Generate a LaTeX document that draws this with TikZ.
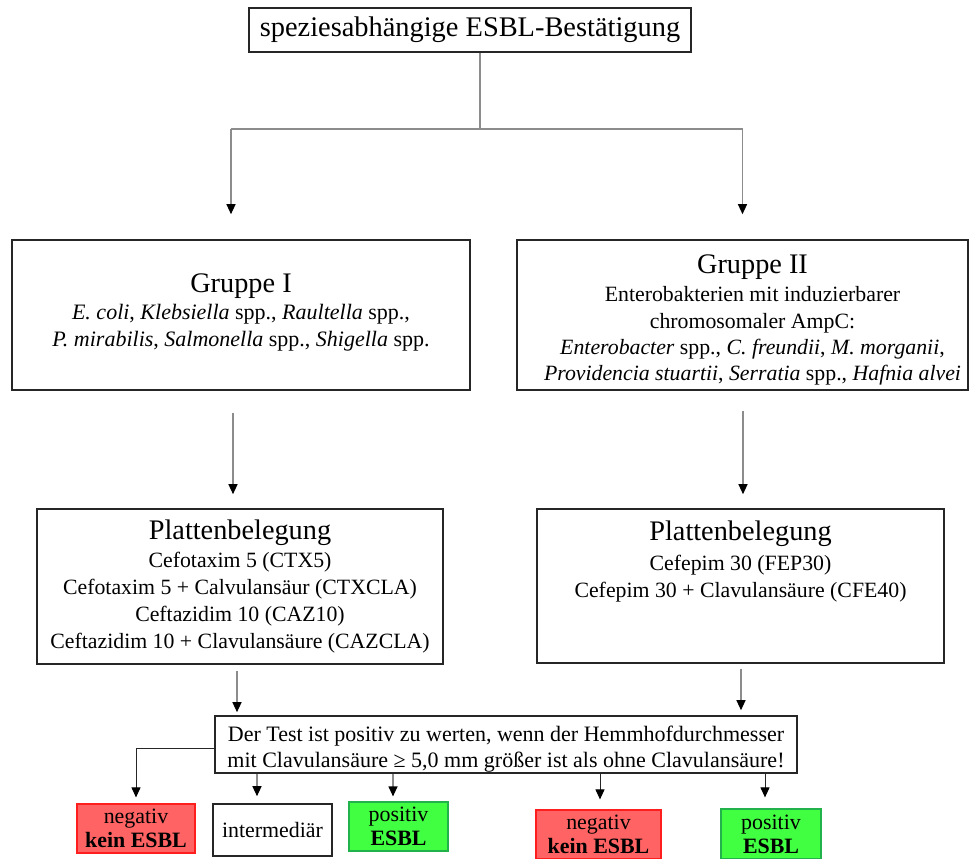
\documentclass[tikz,border=0pt]{standalone}
\usepackage{fontspec}
\setmainfont{Liberation Serif}
\usetikzlibrary{arrows.meta}

\definecolor{negfill}{HTML}{FF6363}
\definecolor{negline}{HTML}{FF1E1E}
\definecolor{posfill}{HTML}{41FF41}
\definecolor{posline}{HTML}{22B24C}
\definecolor{frame}{HTML}{262626}
\definecolor{wire}{HTML}{8C8C8C}

\newcommand\boxhead[1]{{\fontsize{28.3}{30}\selectfont #1}}

\tikzset{
  box/.style={draw=frame, line width=1.6pt, fill=white, align=center,
    inner sep=2pt, font=\fontsize{22}{27}\selectfont},
  boxtext/.style={align=center, inner sep=0pt, font=\fontsize{22}{27}\selectfont},
  result/.style={box, font=\fontsize{21.9}{24}\selectfont},
  negbox/.style={result, draw=negline, fill=negfill, line width=1.2pt},
  posbox/.style={result, draw=posline, fill=posfill, line width=1.2pt},
  trunk/.style={draw=wire, line width=1.2pt},
  flow/.style={trunk, -{Triangle[width=9pt,length=10pt,color=black]}},
  blackflow/.style={flow, draw=black!85, line width=1pt},
}

\begin{document}
\begin{tikzpicture}[x=1pt,y=-1pt]
\useasboundingbox (0,0) rectangle (970,859);

% title
\node[box, minimum width=442pt, minimum height=44pt,
      font=\fontsize{28.4}{30}\selectfont] (top) at (470,30)
  {speziesabhängige ESBL-Bestätigung};

% the two groups
\node[box, minimum width=458pt, minimum height=150pt] (g1) at (241,315) {};
\node[boxtext] (g1text) at ([yshift=3pt]g1.center)
  {\boxhead{Gruppe I}\\[0pt]
   \textit{E. coli}, \textit{Klebsiella} spp., \textit{Raultella} spp.,\\
   \textit{P. mirabilis}, \textit{Salmonella} spp., \textit{Shigella} spp.};

\node[box, minimum width=451pt, minimum height=150pt] (g2) at (742.5,315) {};
\node[boxtext, font=\fontsize{21.8}{26.2}\selectfont] (g2text)
  at ([xshift=10pt,yshift=-5pt]g2.center)
  {\boxhead{Gruppe II}\\[2pt]
   Enterobakterien mit induzierbarer\\
   chromosomaler AmpC:\\
   \textit{Enterobacter} spp., \textit{C. freundii}, \textit{M. morganii},\\
   \textit{Providencia stuartii}, \textit{Serratia} spp., \textit{Hafnia alvei}};

% plate layouts
\node[box, minimum width=406pt, minimum height=155pt,
      font=\fontsize{21.8}{27}\selectfont] (p1) at (240,586.5)
  {\boxhead{Plattenbelegung}\\[1.5pt]
   Cefotaxim 5 (CTX5)\\
   Cefotaxim 5 + Calvulansäur (CTXCLA)\\
   Ceftazidim 10 (CAZ10)\\
   Ceftazidim 10 + Clavulansäure (CAZCLA)};

\node[box, minimum width=407pt, minimum height=154pt] (p2) at (740.5,586) {};
\node[boxtext, anchor=north, font=\fontsize{21.8}{27}\selectfont] (p2text)
  at ([yshift=-12pt]p2.north)
  {\boxhead{Plattenbelegung}\\[3pt]
   Cefepim 30 (FEP30)\\
   Cefepim 30 + Clavulansäure (CFE40)};

% evaluation rule
\node[box, inner sep=0pt, minimum width=582pt, minimum height=57pt,
      font=\fontsize{22}{26}\selectfont] (test) at (506,744.5)
  {\rule{0pt}{24pt}Der Test ist positiv zu werten, wenn der Hemmhofdurchmesser\\
   mit Clavulansäure ≥ 5,0 mm größer ist als ohne Clavulansäure!};

% results
\node[negbox, minimum width=118pt, minimum height=49pt] (neg1) at (136,828.5)
  {negativ\\\textbf{kein ESBL}};
\node[result, minimum width=119pt, minimum height=52pt] (inter) at (272.5,830)
  {intermediär};
\node[posbox, minimum width=99pt, minimum height=49pt] (pos1) at (398.5,826.5)
  {positiv\\\textbf{ESBL}};
\node[negbox, minimum width=125pt, minimum height=49pt] (neg2) at (598.5,834.5)
  {negativ\\\textbf{kein ESBL}};
\node[posbox, minimum width=100pt, minimum height=50pt] (pos2) at (771,834)
  {positiv\\\textbf{ESBL}};

% split below the title
\coordinate (split) at (480,129);
\coordinate (lturn) at (231,129);
\coordinate (rturn) at (742.5,129);
\draw[trunk] (top.south -| split) -- (split);
\draw[trunk] (lturn) -- (rturn);
\coordinate (g1in) at ([yshift=25pt]g1.north -| lturn);
\coordinate (g2in) at ([yshift=25pt]g2.north -| rturn);
\draw[flow] (lturn) -- (g1in);
\draw[flow] (rturn) -- (g2in);

% groups to plate layouts
\coordinate (p1in) at ([xshift=-7pt,yshift=14pt]p1.north);
\coordinate (p2in) at ([xshift=2.5pt,yshift=14pt]p2.north);
\draw[flow] ([yshift=-22pt]g1.south -| p1in) -- (p1in);
\draw[flow] ([yshift=-20pt]g2.south -| p2in) -- (p2in);

% plate layouts to the rule
\coordinate (tinL) at ([xshift=-269pt,yshift=3pt]test.north);
\coordinate (tinR) at ([xshift=235pt,yshift=5pt]test.north);
\draw[flow] ([yshift=-6pt]p1.south -| tinL) -- (tinL);
\draw[flow] ([yshift=-5pt]p2.south -| tinR) -- (tinR);

% rule to the results
\draw[blackflow] ([yshift=-3.5pt]test.west) -| ([yshift=6pt]neg1.north);
\coordinate (rInter) at ([xshift=-15.5pt,yshift=7pt]inter.north);
\coordinate (rPos1) at ([xshift=-5.5pt,yshift=5pt]pos1.north);
\coordinate (rNeg2) at ([xshift=1.5pt,yshift=10pt]neg2.north);
\coordinate (rPos2) at ([xshift=-6pt,yshift=11pt]pos2.north);
\draw[flow] (test.south -| rInter) -- (rInter);
\draw[flow] (test.south -| rPos1) -- (rPos1);
\draw[blackflow] (test.south -| rNeg2) -- (rNeg2);
\draw[blackflow] (test.south -| rPos2) -- (rPos2);
\end{tikzpicture}
\end{document}
